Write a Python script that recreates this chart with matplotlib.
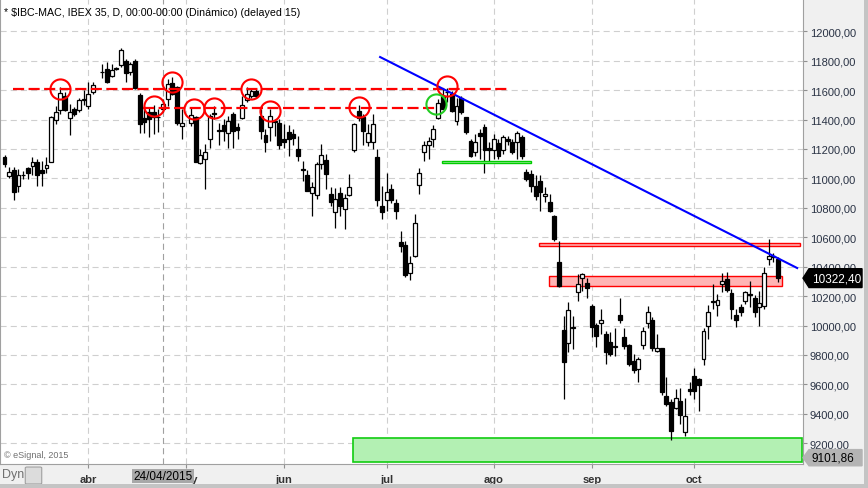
import numpy as np    # calculations
import matplotlib
matplotlib.use('Agg')
import matplotlib.pyplot as plt    # plotting
from matplotlib.patches import Rectangle, Polygon, FancyBboxPatch
from matplotlib.transforms import blended_transform_factory

plt.rcParams['font.family'] = ['Liberation Sans', 'DejaVu Sans']

# Daily IBEX 35 candles, one slot per weekday (None = market closed)
opens = [11145, 11015, 11060, 10950, 11020, 11070, 11085, 11115, 11060, 11070,
         11115, 11400, 11465, 11560, 11410, 11470, 11465, 11530, 11490, 11590,
         None, 11720, 11745, 11695, 11745, 11770, 11795, 11720, 11800, 11565,
         11410, 11450, 11450, 11415, 11475, 11540, 11650, 11620, 11355, None,
         11380, 11415, 11105, 11130, 11265, 11445, 11330, 11365, 11310, 11440,
         11350, 11410, 11530, 11560, 11595, 11425, 11295, 11350, 11390, 11375,
         11270, 11315, 11300, 11200, 11065, 11025, 10900, 10885, 11100, 11125,
         10895, 10770, 10900, 10790, 10890, 11190, 11460, 11415, 11250, 11245,
         11145, 10810, 10855, 10930, 10835, 10565, 10550, 10360, 10470, 10955,
         11180, 11225, 11265, 11410, 11560, 11585, 11575, 11390, 11550, 11415,
         11255, 11180, 11310, 11350, 11205, 11190, 11240, 11195, 11270, 11245,
         11245, 11280, 11045, 11030, 10950, 10980, 10880, 10840, 10745, 10430,
         9970, 9880, 9985, 10225, 10320, 10290, 10135, 10005, 10020, 9945,
         9890, 9855, 10070, 9920, 9865, 9760, 9705, 9870, 10015, 10040,
         9830, 9845, 9520, 9480, 9440, 9490, 9275, 9570, 9655, 9640,
         9770, 9995, 10160, 10140, 10285, 10315, 10220, 10075, 10125, 10170,
         10215, 10190, 10125, 10130, 10450, 10470, 10450]
highs = [11160, 11075, 11075, 11065, 11050, 11080, 11145, 11130, 11120, 11145,
         11425, 11495, 11620, 11585, 11505, 11485, 11550, 11600, 11655, 11655,
         None, 11780, 11790, 11775, 11760, 11885, 11810, 11790, 11815, 11580,
         11495, 11485, 11500, 11470, 11540, 11675, 11690, 11625, 11470, None,
         11485, 11425, 11200, 11235, 11440, 11495, 11380, 11405, 11425, 11450,
         11380, 11560, 11620, 11615, 11610, 11470, 11335, 11475, 11405, 11405,
         11370, 11360, 11335, 11290, 11120, 11055, 10975, 11110, 11235, 11165,
         10940, 10935, 10940, 10895, 11030, 11380, 11500, 11440, 11370, 11440,
         11200, 10950, 11040, 10960, 10860, 10645, 10575, 10475, 10760, 11070,
         11255, 11280, 11365, 11540, 11615, 11615, 11595, 11550, 11560, 11420,
         11270, 11300, 11335, 11370, 11245, 11300, 11270, 11295, 11290, 11270,
         11325, 11295, 11065, 11055, 11020, 11025, 10940, 10895, 10750, 10575,
         10065, 10160, 10065, 10350, 10355, 10320, 10145, 10020, 10115, 9965,
         9955, 9980, 10190, 9980, 9875, 9805, 9785, 9990, 10135, 10055,
         9945, 9850, 9650, 9500, 9570, 9575, 9505, 9615, 9710, 9645,
         9980, 10140, 10285, 10215, 10360, 10365, 10250, 10115, 10145, 10235,
         10305, 10205, 10235, 10395, 10590, 10490, 10465]
lows = [11080, 11005, 10855, 10905, 10995, 10995, 11020, 10950, 10950, 11040,
        11110, 11370, 11440, 11460, 11295, 11425, 11450, 11500, 11470, 11575,
        None, 11685, 11650, 11690, 11735, 11760, 11655, 11705, 11610, 11310,
        11310, 11280, 11300, 11315, 11450, 11495, 11570, 11365, 11270, None,
        11355, 11110, 11095, 10930, 11210, 11405, 11225, 11255, 11210, 11205,
        11270, 11405, 11520, 11550, 11550, 11270, 11180, 11255, 11290, 11200,
        11210, 11155, 11225, 11120, 10985, 10915, 10745, 10860, 11065, 10930,
        10815, 10660, 10745, 10655, 10880, 11180, 11390, 11225, 11220, 11200,
        10815, 10725, 10780, 10835, 10725, 10500, 10330, 10310, 10465, 10895,
        11120, 11135, 11215, 11405, 11470, 11520, 11450, 11365, 11440, 11300,
        11145, 11155, 11130, 11040, 11120, 11130, 11130, 11165, 11225, 11165,
        11130, 11130, 10985, 10905, 10850, 10780, 10840, 10770, 10575, 10260,
        9500, 9820, 9840, 10170, 10235, 10190, 9920, 9855, 9945, 9740,
        9795, 9795, 10020, 9840, 9725, 9680, 9615, 9840, 9980, 9830,
        9820, 9525, 9455, 9225, 9430, 9330, 9250, 9525, 9500, 9420,
        9730, 9910, 10115, 10065, 10225, 10225, 10045, 9990, 10065, 10145,
        10125, 10055, 10000, 10115, 10410, 10430, 10295]
closes = [11095, 11045, 10905, 11020, 11025, 11035, 11110, 11025, 11040, 11090,
          11415, 11450, 11580, 11465, 11450, 11440, 11535, 11540, 11575, 11635,
          None, 11725, 11655, 11740, 11750, 11870, 11715, 11780, 11615, 11370,
          11385, 11405, 11420, 11420, 11505, 11640, 11575, 11380, 11380, None,
          11430, 11115, 11160, 11180, 11425, 11440, 11320, 11320, 11390, 11325,
          11330, 11500, 11575, 11595, 11560, 11325, 11245, 11425, 11385, 11225,
          11245, 11270, 11275, 11150, 11060, 10915, 10940, 11100, 11160, 11030,
          10840, 10860, 10815, 10865, 10940, 11370, 11410, 11325, 11310, 11370,
          10855, 10770, 10905, 10850, 10780, 10540, 10345, 10425, 10700, 11035,
          11225, 11255, 11335, 11515, 11475, 11590, 11460, 11490, 11450, 11315,
          11150, 11250, 11285, 11190, 11190, 11270, 11155, 11280, 11255, 11180,
          11310, 11155, 10995, 10950, 10880, 10905, 10895, 10780, 10585, 10270,
          9750, 10105, 9990, 10285, 10350, 10255, 9990, 9930, 10040, 9820,
          9805, 9860, 10035, 9860, 9740, 9695, 9775, 9965, 10095, 9845,
          9845, 9545, 9470, 9285, 9505, 9390, 9385, 9555, 9555, 9595,
          9965, 10095, 10165, 10175, 10305, 10245, 10110, 10035, 10095, 10225,
          10205, 10095, 10155, 10355, 10470, 10465, 10322.40]

# month labels and the slot of the first weekday of each month
month_names = ['abr', 'may', 'jun', 'jul', 'ago', 'sep', 'oct']
month_slots = [18, 39, 60, 82, 105, 126, 148]
cursor_slot = 34            # 24/04/2015
cursor_label = '24/04/2015'

# drawn annotations (slot, price)
resist_upper = 11605        # long red dashed line
resist_lower = 11477        # shorter red dashed line
red_circles_x = [12, 32, 36, 40.7, 45, 53, 57, 76, 95]
red_circles_y = [11608, 11494, 11653, 11472, 11477, 11608, 11458, 11483, 11626]
green_circle = (92.7, 11506)
trend_x = [80.6, 170.1]     # blue trend line
trend_y = [11825, 10391]
last_price = 10322.40
low_price = 9101.86

o = np.array([np.nan if v is None else v for v in opens], float)
h = np.array([np.nan if v is None else v for v in highs], float)
l = np.array([np.nan if v is None else v for v in lows], float)
c = np.array([np.nan if v is None else v for v in closes], float)
x = np.arange(len(o))
ok = ~np.isnan(o)
up = ok & (c >= o)
dn = ok & (c < o)

W, H = 868, 489
fig = plt.figure(figsize=(W/100, H/100), dpi=100, facecolor='#f0f0f0')
ax = fig.add_axes([0, 24/H, 803/W, 465/H])
ax.set_facecolor('white')

# candles: wicks, then bodies on top
ax.vlines(x[ok], l[ok], h[ok], color='black', lw=0.9, zorder=3)
body = np.maximum(np.abs(c - o), 3)
ax.bar(x[up], body[up], bottom=o[up], width=0.84, facecolor='white', edgecolor='black', lw=0.9, zorder=4)
ax.bar(x[dn], body[dn], bottom=c[dn], width=0.84, facecolor='black', edgecolor='black', lw=0.9, zorder=4)

# zones
ax.add_patch(Rectangle((93.9, 11103), 19, 14, fc='#b0f0b0', ec='#00cc00', lw=1, zorder=5))
ax.add_patch(Rectangle((114.7, 10543), 56, 18, fc='#ffb0b0', ec='#ff0000', lw=1, zorder=2))
ax.add_patch(Rectangle((116.8, 10271), 50, 64, fc='#ffb4b4', ec='#ff0000', lw=1, zorder=2))
ax.add_patch(Rectangle((74.8, 9075), 96.3, 161, fc='#b3f0b3', ec='#11cc11', lw=1.2, zorder=2))

# support / resistance lines and trend line
ax.plot([1.8, 108], [resist_upper]*2, color='red', lw=1.6, ls=(0, (5, 2)), zorder=6)
ax.plot([29.7, 92.4], [resist_lower]*2, color='red', lw=1.6, ls=(0, (5, 2)), zorder=6)
ax.plot(trend_x, trend_y, color='#0000ff', lw=1.5, zorder=6)
ax.plot(red_circles_x, red_circles_y, 'o', ms=14.5, mfc='none', mec='red', mew=1.5, zorder=7)
ax.plot([green_circle[0]], [green_circle[1]], 'o', ms=14.5, mfc='none', mec='#22cc22', mew=1.5, zorder=7)

ax.set_xlim(-0.97, 171.35)
ax.set_ylim(9059, 12219.5)

# grid and axes
yt = np.arange(9200, 12001, 200)
ax.set_yticks(yt)
ax.set_yticklabels([f'{v},00' for v in yt])
ax.yaxis.tick_right()
ax.tick_params(axis='y', length=3, width=0.8, pad=2, labelsize=8, labelcolor='#2a3345', color='#909090')
ax.set_xticks(month_slots)
ax.set_xticklabels(month_names, fontweight='bold')
ax.tick_params(axis='x', length=3, width=0.8, pad=4, labelsize=8, labelcolor='#333333', color='#909090')
ax.set_axisbelow(True)
ax.grid(True, color='#cfcfcf', lw=0.8, ls=(0, (5.5, 3.7)))
ax.axvline(cursor_slot, color='#a0a0a0', lw=0.8, ls=(0, (5.5, 3.7)), zorder=1)
for s in ['left', 'bottom', 'right']:
    ax.spines[s].set_color('#a0a0a0')
ax.spines['top'].set_visible(False)

# price tags on the right axis
tr = blended_transform_factory(ax.transAxes, ax.transData)
hh = 64
ax.add_patch(Polygon([(1.0, last_price), (1.0075, last_price + hh), (1.0735, last_price + hh),
                      (1.0735, last_price - hh), (1.0075, last_price - hh)],
                     closed=True, transform=tr, fc='black', ec='black', clip_on=False, zorder=10))
ax.text(1.011, last_price, f'{last_price:.2f}'.replace('.', ','), transform=tr, color='white',
        fontsize=8.5, va='center', ha='left', clip_on=False, zorder=11)
ax.add_patch(Polygon([(1.0, low_price), (1.0075, low_price + 55), (1.0735, low_price + 55),
                      (1.0735, low_price - 55), (1.0075, low_price - 55)],
                     closed=True, transform=tr, fc='#b4b4b4', ec='#b4b4b4', clip_on=False, zorder=10))
ax.text(1.011, low_price, f'{low_price:.2f}'.replace('.', ','), transform=tr, color='black',
        fontsize=8.5, va='center', ha='left', clip_on=False, zorder=11)

# texts
fig.text(4/W, 1 - 13/H, '* $IBC-MAC, IBEX 35, D, 00:00-00:00 (Dinámico) (delayed 15)',
         fontsize=7.7, va='center', ha='left', color='black')
fig.text(4/W, 1 - 456/H, '© eSignal, 2015', fontsize=6.5, va='center', ha='left', color='#707070')
fig.text(2/W, 1 - 475/H, 'Dyn', fontsize=9, va='center', ha='left', color='#707070')
fig.patches.append(FancyBboxPatch((27/W, 1 - 484/H), 13/W, 15/H, boxstyle='round,pad=0.002',
                                  transform=fig.transFigure, fc='#dcdcdc', ec='#a0a0a0', lw=0.8))
fig.text(163/W, 1 - 477/H, cursor_label, fontsize=8.5, va='center', ha='center', color='black',
         bbox=dict(boxstyle='square,pad=0.12', fc='#a8a8a8', ec='none'), zorder=12)

# window frame strips
fig.patches.append(Rectangle((864/W, 0), 4/W, 1, transform=fig.transFigure, fc='#c4c4c4', ec='none'))
fig.patches.append(Rectangle((0, 0), 1, 4/H, transform=fig.transFigure, fc='#c4c4c4', ec='none'))

fig.savefig('out.png', dpi=100, facecolor=fig.get_facecolor())
